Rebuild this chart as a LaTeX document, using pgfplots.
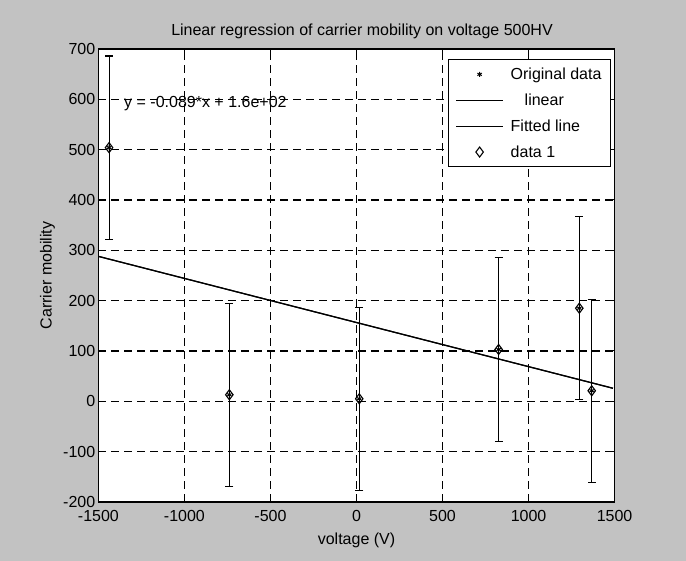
\documentclass[border=0pt]{standalone}
\usepackage{fontspec}
\setmainfont{Liberation Sans}
\usepackage{pgfplots}
\pgfplotsset{compat=1.18}
\pgfplotsset{
  legline/.style={legend image code/.code={\draw[##1] (0pt,0pt) -- (47pt,0pt);}},
  legmark/.style={legend image code/.code={\draw[##1] plot coordinates {(23.5pt,0pt)};}},
}
\newcommand{\f}{\fontsize{16}{19}\selectfont}
\begin{document}
\begin{tikzpicture}
% scanned grey page behind the figure
\fill[black!24] (0pt,0pt) rectangle (686pt,561pt);
\begin{axis}[
  at={(98.4pt,59pt)}, anchor=south west,
  width=516.2pt, height=453pt, scale only axis,
  xmin=-1500, xmax=1500, ymin=-200, ymax=700,
  axis background/.style={fill=white},
  axis line style={line width=1.4pt},
  every tick/.style={black, line width=1pt},
  tick align=inside, major tick length=6pt,
  grid=major,
  major grid style={black, line width=1.1pt, dash pattern=on 8pt off 5pt},
  xtick={-1500,-1000,-500,0,500,1000,1500},
  xticklabels={-1500,-1000,-500,0,500,1000,1500},
  ytick={-200,-100,0,100,200,300,400,500,600,700},
  yticklabels={-200,-100,0,100,200,300,400,500,600,700},
  tick label style={font=\f},
  xticklabel style={anchor=base, yshift=-20pt},
  yticklabel style={anchor=east, inner sep=0pt, xshift=-3pt},
  title={Linear regression of carrier mobility on voltage 500HV},
  title style={at={(axis description cs:0.5107,1.0155)}, anchor=base, font=\f},
  xlabel={voltage (V)},
  xlabel style={at={(axis description cs:0.5,-0.0949)}, anchor=base, font=\f},
  ylabel={Carrier mobility},
  ylabel style={at={(axis description cs:-0.0988,0.5)}, anchor=center, font=\f},
  legend style={at={(0.993,0.978)}, anchor=north east, draw=black, line width=1.1pt,
    fill=white, font=\f, inner xsep=7pt, inner ysep=6.3pt, row sep=8.8pt, column sep=5pt},
  legend cell align=left,
]
\addplot[only marks, mark=asterisk, mark size=2.5pt, black, line width=1pt, legmark] coordinates {
  (-1438,504) (-739,13) (16,5) (826,103) (1295,185) (1367,21)
};
\addlegendentry{Original data}
\addplot[black, line width=1.2pt, legline] coordinates {(-1500,288) (1490,26)};
\addlegendentry{\hspace*{14pt}linear}
\addplot[black, line width=1.2pt, legline] coordinates {(-1500,288) (1490,26)};
\addlegendentry{Fitted line}
\addplot[only marks, mark=diamond, mark size=5pt, black, line width=1.1pt, legmark,
  error bars/.cd, y dir=both, y explicit,
  error bar style={line width=1.1pt},
  error mark options={rotate=90, mark size=4pt, line width=1.1pt}] coordinates {
  (-1438,504) +- (0,182)
  (-739,13) +- (0,182)
  (16,5) +- (0,182)
  (826,103) +- (0,182)
  (1295,185) +- (0,182)
  (1367,21) +- (0,182)
};
\addlegendentry{data 1}
\node[anchor=base west, inner sep=0pt, font=\f] at (axis cs:-1351,584) {y = -0.089*x + 1.6e+02};
\end{axis}
\end{tikzpicture}
\end{document}
